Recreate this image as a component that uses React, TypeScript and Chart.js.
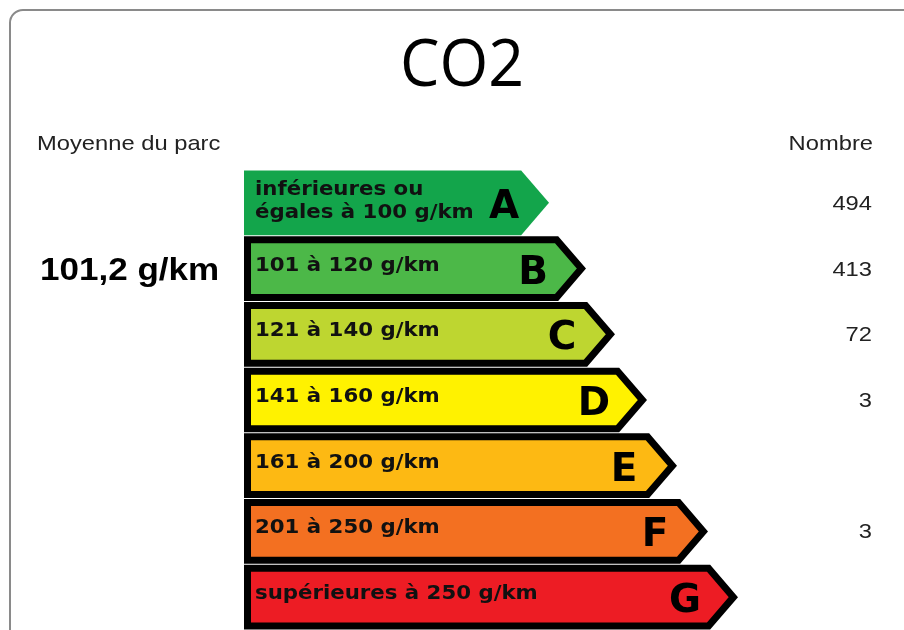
import React, { useEffect, useRef } from "react";
import { Chart, registerables } from "chart.js";

Chart.register(...registerables);

const TITLE = "CO2";
const LEFT_HEADER = "Moyenne du parc";
const RIGHT_HEADER = "Nombre";
const AVERAGE_LABEL = "101,2 g/km";

const classes = ["A", "B", "C", "D", "E", "F", "G"];
const rangeLabels: string[][] = [
  ["inférieures ou", "égales à 100 g/km"],
  ["101 à 120 g/km"],
  ["121 à 140 g/km"],
  ["141 à 160 g/km"],
  ["161 à 200 g/km"],
  ["201 à 250 g/km"],
  ["supérieures à 250 g/km"],
];
// length of each arrow (x-axis units)
const arrowLengths = [305, 342, 371, 403, 433, 464, 494];
const counts: (number | null)[] = [494, 413, 72, 3, null, 3, null];
const classColors = ["#13a54b", "#4cb848", "#bed630", "#fff200", "#fdb913", "#f37021", "#ed1c24"];

function drawText(
  ctx: CanvasRenderingContext2D,
  str: string,
  x: number,
  y: number,
  font: string,
  align: CanvasTextAlign,
  sx = 1,
  color = "#111"
) {
  ctx.save();
  ctx.font = font;
  ctx.fillStyle = color;
  ctx.textBaseline = "alphabetic";
  ctx.textAlign = align;
  ctx.translate(x, y);
  ctx.scale(sx, 1);
  ctx.fillText(str, 0, 0);
  ctx.restore();
}

const energyPlugin = {
  id: "energyLabel",
  beforeDraw(chart: any) {
    const ctx: CanvasRenderingContext2D = chart.ctx;
    ctx.save();
    ctx.fillStyle = "#ffffff";
    ctx.fillRect(0, 0, chart.width, chart.height);
    // card outline
    const x = 10, y = 10, w = chart.width + 40, h = chart.height + 40, r = 13;
    ctx.beginPath();
    ctx.moveTo(x + r, y);
    ctx.lineTo(x + w - r, y);
    ctx.arcTo(x + w, y, x + w, y + r, r);
    ctx.lineTo(x + w, y + h - r);
    ctx.arcTo(x + w, y + h, x + w - r, y + h, r);
    ctx.lineTo(x + r, y + h);
    ctx.arcTo(x, y + h, x, y + h - r, r);
    ctx.lineTo(x, y + r);
    ctx.arcTo(x, y, x + r, y, r);
    ctx.closePath();
    ctx.strokeStyle = "#8a8a8a";
    ctx.lineWidth = 2;
    ctx.stroke();
    ctx.restore();

    drawText(ctx, TITLE, 462, 86, '400 66px "Open Sans"', "center", 0.95, "#000");
    drawText(ctx, LEFT_HEADER, 37, 150, '21px "Liberation Sans"', "left", 1.13, "#222");
    drawText(ctx, RIGHT_HEADER, 873, 150, '21px "Liberation Sans"', "right", 1.13, "#222");
    drawText(ctx, AVERAGE_LABEL, 40, 280, 'bold 31px "Liberation Sans"', "left", 1.13, "#000");
  },
  afterDatasetsDraw(chart: any) {
    const ctx: CanvasRenderingContext2D = chart.ctx;
    const meta = chart.getDatasetMeta(0);
    meta.data.forEach((bar: any, i: number) => {
      const p = bar.getProps(["x", "y", "base", "height"], true);
      const tip = p.x;
      const yc = p.y;
      const h = p.height;
      const top = yc - h / 2;
      const bottom = yc + h / 2;
      const left = p.base;
      const d = h * 0.43;
      const tanPhi = d / (h / 2);
      const outlined = i !== 0;
      ctx.save();
      ctx.lineJoin = "miter";
      ctx.miterLimit = 10;
      if (!outlined) {
        ctx.beginPath();
        ctx.moveTo(left, top);
        ctx.lineTo(tip - d, top);
        ctx.lineTo(tip, yc);
        ctx.lineTo(tip - d, bottom);
        ctx.lineTo(left, bottom);
        ctx.closePath();
        ctx.fillStyle = classColors[i];
        ctx.fill();
      } else {
        const t = 7;
        const cosPhi = (h / 2) / Math.sqrt((h / 2) * (h / 2) + d * d);
        const s = t / 2 / cosPhi;
        const L = left + t / 2;
        const T = top + t / 2;
        const B = bottom - t / 2;
        const Tip = tip - s;
        const Cx = Tip - (yc - T) * tanPhi;
        ctx.beginPath();
        ctx.moveTo(L, T);
        ctx.lineTo(Cx, T);
        ctx.lineTo(Tip, yc);
        ctx.lineTo(Cx, B);
        ctx.lineTo(L, B);
        ctx.closePath();
        ctx.fillStyle = classColors[i];
        ctx.fill();
        ctx.strokeStyle = "#000";
        ctx.lineWidth = t;
        ctx.stroke();
      }
      ctx.restore();

      // range label
      const lines = rangeLabels[i];
      const labelFont = 'bold 19px "DejaVu Sans"';
      if (lines.length === 2) {
        drawText(ctx, lines[0], left + 11, yc - 8, labelFont, "left", 1.12, "#111");
        drawText(ctx, lines[1], left + 11, yc + 15, labelFont, "left", 1.12, "#111");
      } else {
        drawText(ctx, lines[0], left + 11, yc + 2, labelFont, "left", 1.12, "#111");
      }
      // class letter
      const innerTip = outlined ? tip - 8 : tip;
      drawText(ctx, classes[i], innerTip - 45, yc + 15, 'bold 39px "DejaVu Sans"', "center", 1, "#000");
      // count
      const c = counts[i];
      if (c !== null && c !== undefined) {
        drawText(ctx, String(c), 872, yc + 7, '21px "Liberation Sans"', "right", 1.13, "#222");
      }
    });
  },
};

export default function App() {
  const ref = useRef<HTMLCanvasElement | null>(null);
  useEffect(() => {
    if (!ref.current) return;
    const chart = new Chart(ref.current, {
      type: "bar",
      data: {
        labels: classes,
        datasets: [
          {
            data: arrowLengths,
            backgroundColor: "rgba(0,0,0,0)",
            borderWidth: 0,
            categoryPercentage: 1,
            barPercentage: 0.985,
          },
        ],
      },
      options: {
        indexAxis: "y",
        responsive: false,
        animation: false,
        events: [],
        layout: { padding: { left: 244, right: 20, top: 170, bottom: 0 } },
        scales: {
          x: { display: false, min: 0, max: 640 },
          y: { display: false },
        },
        plugins: {
          legend: { display: false },
          tooltip: { enabled: false },
          title: { display: false },
        },
      },
      plugins: [energyPlugin],
    } as any);
    return () => chart.destroy();
  }, []);
  return (
    <div style={{ position: "absolute", left: 0, top: 0, width: 904, height: 630 }}>
      <canvas ref={ref} width={904} height={630} style={{ display: "block" }} />
    </div>
  );
}
